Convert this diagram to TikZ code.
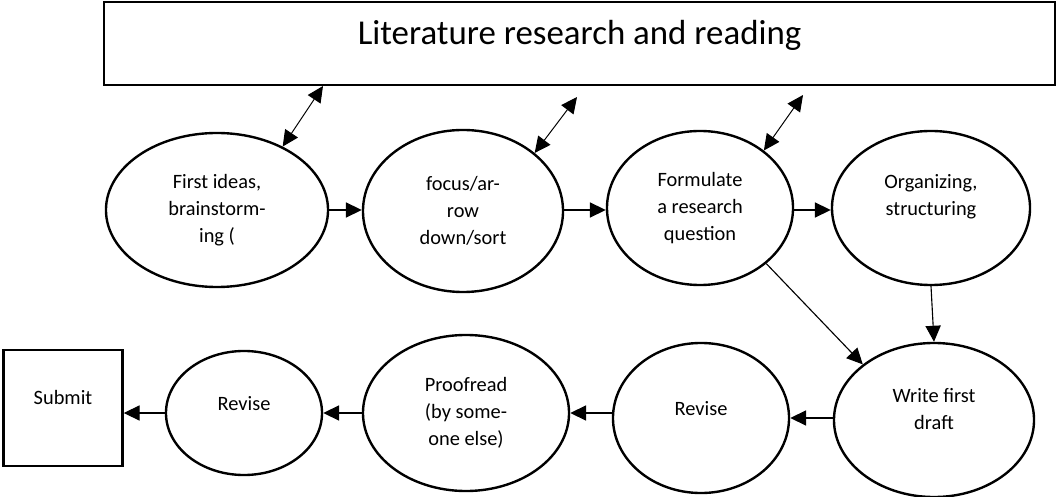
\documentclass[tikz,border=0pt]{standalone}
\usepackage{fontspec}
\setmainfont{Carlito}
\usepackage{tikz}
\usetikzlibrary{shapes.geometric, arrows.meta, positioning, calc}

\begin{document}
\begin{tikzpicture}[x=0.025cm, y=-0.025cm, >={Triangle[length=0.4cm, width=0.38cm]}]
        \tikzstyle{lit_style} = [rectangle, minimum width=23.775cm, minimum height=2.075cm, draw=black, line width=1.8pt, font=\fontsize{24.8}{28}\selectfont, text height=15pt, text depth=13pt]
        \tikzstyle{ellipse_style} = [ellipse, draw=black, line width=1.7pt, inner sep=0pt, align=center, font=\fontsize{14.5}{19.2}\selectfont]
        \tikzstyle{box_style} = [rectangle, draw=black, line width=1.7pt, align=center, font=\fontsize{14.5}{19.2}\selectfont]
        \tikzstyle{arrow_step} = [line width=0.8pt, ->]
        \tikzstyle{arrow_both} = [line width=0.7pt, <->]

        \useasboundingbox (0,0) rectangle (1057,497);

        % Literature box
        \node (lit) [lit_style] at (579.5,43.5) {Literature research and reading};

        % Upper row
        \node (ideas) [ellipse_style, minimum width=5.55cm, minimum height=3.85cm] at (217,210) {First ideas,\\ brainstorm-\\ ing (};
        \node (focus) [ellipse_style, minimum width=5.0cm, minimum height=4.05cm] at (463,211) {focus/ar-\\ row\\ down/sort};
        \node (quest) [ellipse_style, minimum width=4.65cm, minimum height=3.85cm] at (700,208) {Formulate\\ a research\\ question};
        \node (organ) [ellipse_style, minimum width=4.95cm, minimum height=3.85cm] at (931,208) {Organizing,\\ structuring\\ \mbox{}};

        % Lower row
        \node (draft) [ellipse_style, minimum width=5.0cm, minimum height=3.85cm] at (934,420) {Write first\\ draft\\[-4pt]};
        \node (rev2) [ellipse_style, minimum width=4.4cm, minimum height=3.75cm, text depth=14pt] at (701,418) {Revise};
        \node (proof) [ellipse_style, minimum width=5.15cm, minimum height=3.9cm] at (466,413) {Proofread\\ (by some-\\ one else)};
        \node (rev1) [ellipse_style, minimum width=3.9cm, minimum height=3.1cm, text depth=14pt] at (244,413) {Revise};
        \node (submit) [box_style, minimum width=2.975cm, minimum height=2.9cm, text depth=15.5pt] at (63,408) {Submit};

        % Free ends below the literature box
        \coordinate (lit1) at (323,86);
        \coordinate (lit2) at (577,97);
        \coordinate (lit3) at (803,95);

        % Arrows: to and from the literature
        \draw [arrow_both] (ideas.44) -- (lit1);
        \draw [arrow_both] (focus.39) -- (lit2);
        \draw [arrow_both] (quest.42) -- (lit3);

        % Arrows: upper row
        \draw [arrow_step] (ideas.east) -- (focus.west |- ideas.east);
        \draw [arrow_step] (focus.east |- ideas.east) -- (quest.west |- ideas.east);
        \draw [arrow_step] (quest.east |- ideas.east) -- (organ.west |- ideas.east);

        % Arrows: down to the draft
        \draw [arrow_step] (quest.-40) -- (draft.142);
        \draw [arrow_step] (organ.south) -- (draft.north);

        % Arrows: lower row
        \draw [arrow_step] (draft.west |- rev2.east) -- (rev2.east);
        \draw [arrow_step] (rev2.west |- proof.east) -- (proof.east);
        \draw [arrow_step] (proof.west) -- (rev1.east);
        \draw [arrow_step] (rev1.west) -- (submit.east |- rev1.west);
    \end{tikzpicture}
\end{document}
